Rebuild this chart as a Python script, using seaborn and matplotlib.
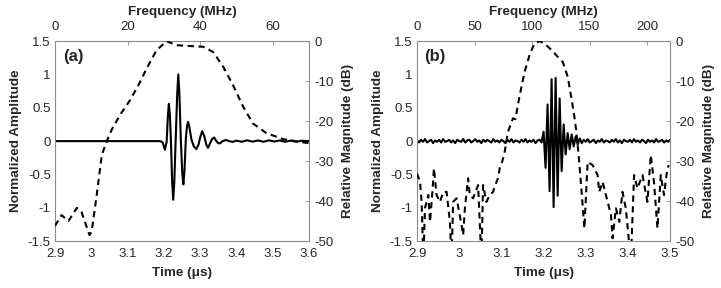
import numpy as np
import pandas as pd
import seaborn as sns
import matplotlib.pyplot as plt

sns.set_style('white')
plt.rcParams['font.family'] = ['Liberation Sans', 'DejaVu Sans']
plt.rcParams['axes.unicode_minus'] = False
plt.rcParams['font.size'] = 9.5

# panel (a): time trace (us, normalized amplitude)
time_a = [2.90, 3.00, 3.10, 3.15, 3.190, 3.197, 3.203, 3.208, 3.211, 3.214, 3.217, 3.220,
          3.223, 3.226, 3.229, 3.233, 3.237, 3.240, 3.243, 3.247, 3.251, 3.254, 3.257, 3.261,
          3.264, 3.267, 3.271, 3.276, 3.283, 3.290, 3.296, 3.300, 3.306, 3.312, 3.317, 3.322,
          3.328, 3.333, 3.339, 3.345, 3.350, 3.355, 3.362, 3.368, 3.373, 3.380, 3.390, 3.400,
          3.415, 3.430, 3.445, 3.460, 3.475, 3.490, 3.505, 3.520, 3.535, 3.550, 3.565, 3.580, 3.600]
amp_a = [0.0, 0.0, 0.0, 0.0, 0.0, -0.02, -0.13, -0.01, 0.35, 0.56, 0.38, -0.05,
         -0.60, -0.88, -0.62, 0.05, 0.70, 1.00, 0.72, 0.02, -0.48, -0.65, -0.45, 0.05,
         0.22, 0.29, 0.20, 0.03, -0.08, -0.12, -0.05, 0.05, 0.15, 0.07, -0.05, -0.10,
         -0.03, 0.03, 0.055, 0.0, -0.03, -0.035, 0.0, 0.012, 0.015, 0.0, -0.012, 0.008,
         -0.01, 0.012, -0.008, 0.01, -0.01, 0.012, -0.006, 0.01, -0.01, 0.008, -0.01, 0.006, 0.0]

# panel (a): spectrum (MHz, dB)
freq_a = [0, 1.8, 3.7, 6.0, 7.3, 9.5, 10.1, 11.5, 12.9, 14.2, 15.6, 17.9, 20.7, 23.0, 25.3,
          28.0, 30.8, 33.5, 37.0, 40.9, 43.6, 46.4, 49.1, 51.9, 54.6, 58.3, 62.9, 68.4, 70.0]
db_a = [-46.2, -43.5, -45.0, -41.7, -42.7, -48.5, -47.7, -38.5, -28.5, -25.2, -22.2, -18.5,
        -14.75, -11.0, -6.8, -2.25, 0.0, -1.0, -1.2, -1.4, -2.7, -6.4, -11.0, -16.4, -20.6,
        -23.0, -24.5, -25.3, -25.5]

# panel (b): sampled time trace, 2.9-3.5 us
amp_b = [0.01, -0.02, 0.02, -0.01, 0.03, -0.02, 0.0, 0.02, -0.03, 0.01, -0.01, 0.02,
         -0.02, 0.03, -0.01, 0.0, 0.02, -0.02, 0.01, -0.03, 0.02, 0.0, -0.01, 0.03,
         -0.02, 0.01, 0.02, -0.02, 0.0, 0.03, -0.01, 0.01, -0.03, 0.02, -0.01, 0.02,
         0.0, -0.02, 0.03, -0.01, 0.01, -0.02, 0.02, 0.0, -0.03, 0.02, -0.01, 0.03,
         -0.02, 0.01, 0.0, -0.02, 0.02, -0.01, 0.03, -0.02, 0.01, -0.01, 0.02, -0.03,
         0.01, 0.02, -0.02,
         0.14, -0.40, 0.55, -0.75, 0.93, -0.99, 0.95, -0.82, 0.64, -0.45, 0.25, -0.20,
         0.12, -0.12, 0.10, -0.08, 0.07, -0.05, 0.04,
         -0.03, 0.02, -0.01, 0.03, -0.02, 0.0, 0.02, -0.03, 0.01, -0.01, 0.03, -0.02,
         0.01, 0.0, -0.02, 0.02, -0.01, 0.03, -0.02, 0.01, -0.03, 0.02, 0.0, -0.01,
         0.02, -0.02, 0.03, -0.01, 0.01, -0.02, 0.02, 0.0, -0.03, 0.02, -0.01, 0.01,
         -0.02, 0.03, -0.01, 0.0, 0.02, -0.02, 0.01, -0.01, 0.02]
t0_b, t1_b = 2.9, 3.5
time_b = np.linspace(t0_b, t1_b, len(amp_b))

# panel (b): spectrum (MHz, dB)
freq_b = [0, 2.6, 4.0, 5.5, 6.9, 9.8, 11.3, 13.6, 14.7, 17.0, 19.9, 22.8, 25.7, 28.6, 30.0,
          31.4, 34.4, 38.7, 40.1, 41.6, 44.4, 45.9, 48.7, 53.1, 56.0, 57.4, 60.3, 63.2, 66.1,
          67.5, 70.4, 71.9, 74.0, 76.2, 79.0, 83.4, 85.5, 89.0, 93.5, 97.8, 102.0, 106.5,
          110.8, 118.0, 121.0, 126.7, 131.0, 134.0, 136.8, 138.3, 140.5, 142.6, 145.5, 148.3,
          152.6, 157.0, 158.4, 161.3, 164.2, 168.6, 170.0, 172.9, 175.8, 178.6, 181.5, 185.9,
          188.7, 191.6, 196.0, 200.3, 203.2, 206.0, 209.0, 211.9, 214.7, 217.6, 219.0]
db_b = [-33.1, -35.2, -40.2, -55.0, -41.8, -38.5, -45.2, -36.8, -31.8, -38.5, -40.2, -37.7,
        -37.7, -45.2, -55.0, -40.2, -39.3, -46.0, -48.5, -41.8, -34.3, -38.5, -39.3, -36.0,
        -55.0, -36.0, -40.2, -38.5, -37.7, -36.4, -34.3, -31.8, -30.2, -27.7, -22.7, -19.3,
        -19.5, -13.9, -7.7, -3.5, -0.6, 0.0, -0.6, -2.5, -3.5, -5.2, -8.9, -13.9, -18.9,
        -22.2, -28.5, -36.0, -46.8, -30.2, -31.0, -33.5, -37.7, -35.2, -38.5, -43.5, -49.3,
        -41.8, -45.2, -37.7, -41.8, -55.0, -33.5, -36.8, -33.5, -40.2, -28.5, -35.2, -46.8,
        -33.5, -38.5, -31.8, -31.0]

amp_ticks = [-1.5, -1, -0.5, 0, 0.5, 1, 1.5]
amp_labels = ['-1.5', '-1', '-0.5', '0', '0.5', '1', '1.5']
db_ticks = [-50, -40, -30, -20, -10, 0]

spine_col = '0.55'
fig = plt.figure(figsize=(7.21, 2.88), dpi=100)


def draw_panel(rect, t, amp, f, db, tlim, tticks, flim, fticks, tag):
    ax = fig.add_axes(rect)
    axf = fig.add_axes(rect, label=tag)
    axf.patch.set_visible(False)

    sns.lineplot(x=f, y=db, ax=axf, color='k', lw=1.5, linestyle=(0, (3.0, 2.2)),
                 sort=False, estimator=None)
    sns.lineplot(x=t, y=amp, ax=ax, color='k', lw=1.5, sort=False, estimator=None)

    ax.set_xlim(tlim)
    ax.set_ylim(-1.5, 1.5)
    ax.set_xticks(tticks)
    ax.set_xticklabels([f'{v:g}' for v in tticks])
    ax.set_yticks(amp_ticks)
    ax.set_yticklabels(amp_labels)
    ax.set_xlabel('Time (μs)', fontweight='bold', fontsize=9.7, labelpad=5)
    ax.set_ylabel('Normalized Amplitude', fontweight='bold', fontsize=9.7, labelpad=4)
    ax.tick_params(direction='in', length=3, width=0.6, color=spine_col, pad=3,
                   labelsize=9.5)
    ax.tick_params(axis='x', pad=5)
    for s in ax.spines.values():
        s.set_color(spine_col)
        s.set_linewidth(0.8)

    axf.set_xlim(flim)
    axf.set_ylim(-50, 0)
    axf.set_xticks(fticks)
    axf.set_yticks(db_ticks)
    axf.xaxis.tick_top()
    axf.xaxis.set_label_position('top')
    axf.yaxis.tick_right()
    axf.yaxis.set_label_position('right')
    axf.set_xlabel('Frequency (MHz)', fontweight='bold', fontsize=9.7, labelpad=4)
    axf.set_ylabel('Relative Magnitude (dB)', fontweight='bold', fontsize=9.7, labelpad=6)
    axf.tick_params(direction='in', length=3, width=0.6, color=spine_col, pad=4,
                    labelsize=9.5)
    axf.tick_params(axis='x', pad=6)
    for s in axf.spines.values():
        s.set_visible(False)

    ax.text(0.03, 0.96, tag, transform=ax.transAxes, ha='left', va='top',
            fontsize=12, fontweight='bold')


draw_panel([0.0763, 0.163, 0.352, 0.694], time_a, amp_a, freq_a, db_a,
           (2.9, 3.6), [2.9, 3.0, 3.1, 3.2, 3.3, 3.4, 3.5, 3.6],
           (0, 70), [0, 20, 40, 60], '(a)')
draw_panel([0.5784, 0.163, 0.351, 0.694], time_b, amp_b, freq_b, db_b,
           (2.9, 3.5), [2.9, 3.0, 3.1, 3.2, 3.3, 3.4, 3.5],
           (0, 220), [0, 50, 100, 150, 200], '(b)')

fig.savefig('out.png', dpi=100)
